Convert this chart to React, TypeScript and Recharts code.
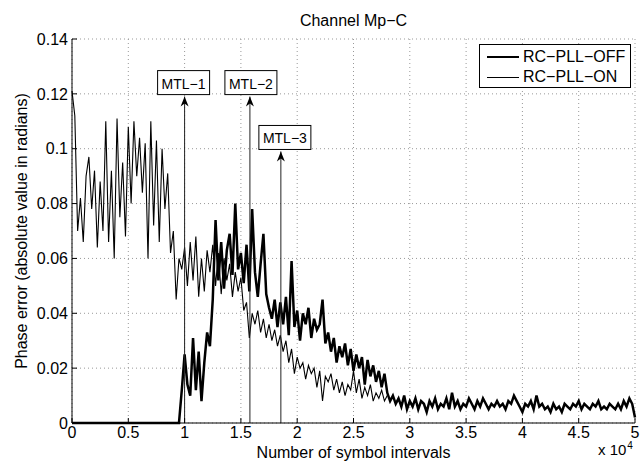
import React from 'react';
import { LineChart, Line, XAxis, YAxis, CartesianGrid, ReferenceLine } from 'recharts';

// samples every 250 symbol intervals (0 .. 5x10^4)
const STEP = 250;

const X_TICKS = [0, 5000, 10000, 15000, 20000, 25000, 30000, 35000, 40000, 45000, 50000];
const X_TICK_LABELS = ['0', '0.5', '1', '1.5', '2', '2.5', '3', '3.5', '4', '4.5', '5'];
const Y_TICKS = [0, 0.02, 0.04, 0.06, 0.08, 0.1, 0.12, 0.14];
const Y_TICK_LABELS = ['0', '0.02', '0.04', '0.06', '0.08', '0.1', '0.12', '0.14'];

// RC-PLL-OFF (thick)
const PLL_OFF = [
    0, 0, 0, 0, 0, 0, 0, 0, 0, 0, 0, 0, 0, 0, 0, 0, 0, 0, 0, 0,
    0, 0, 0, 0, 0, 0, 0, 0, 0, 0, 0, 0, 0, 0, 0, 0, 0, 0, 0,
    0.012, 0.025, 0.014, 0.010, 0.031, 0.012, 0.026, 0.008, 0.022, 0.033,
    0.028, 0.045, 0.074, 0.052, 0.066, 0.049, 0.063, 0.069, 0.054, 0.080,
    0.056, 0.062, 0.051, 0.065, 0.048, 0.078, 0.055, 0.046, 0.058, 0.069,
    0.047, 0.042, 0.038, 0.045, 0.035, 0.044, 0.036, 0.046, 0.032, 0.059,
    0.035, 0.041, 0.030, 0.040, 0.036, 0.042, 0.031, 0.038, 0.034, 0.036,
    0.045, 0.029, 0.033, 0.026, 0.031, 0.022, 0.028, 0.024, 0.029, 0.021,
    0.027, 0.019, 0.025, 0.020, 0.024, 0.014, 0.023, 0.017, 0.021, 0.015,
    0.019, 0.013, 0.018, 0.011, 0.008, 0.010, 0.007, 0.009, 0.006, 0.010,
    0.005, 0.008,
    0.006, 0.009, 0.005, 0.008, 0.007, 0.004, 0.008, 0.006, 0.009, 0.005,
    0.007, 0.006, 0.009, 0.005, 0.011, 0.006, 0.008, 0.005, 0.007, 0.006,
    0.009, 0.007, 0.005, 0.008, 0.006, 0.009, 0.007, 0.005, 0.007, 0.006,
    0.008, 0.006, 0.007, 0.005, 0.008, 0.007, 0.010, 0.008, 0.006, 0.004,
    0.007, 0.006, 0.008, 0.005, 0.010, 0.006, 0.007, 0.005, 0.006, 0.004,
    0.007, 0.005, 0.006, 0.004, 0.007, 0.006, 0.005, 0.007, 0.006, 0.008,
    0.005, 0.007, 0.006, 0.005, 0.007, 0.006, 0.008, 0.005, 0.006, 0.005,
    0.007, 0.006, 0.005, 0.007, 0.005, 0.008, 0.006, 0.009, 0.007, 0.002,
];

// RC-PLL-ON (thin), merges with the OFF curve after ~2.8x10^4
const PLL_ON = [
    0.121, 0.112, 0.070, 0.082, 0.066, 0.090, 0.097, 0.078, 0.092, 0.064,
    0.088, 0.070, 0.110, 0.066, 0.092, 0.060, 0.111, 0.075, 0.095, 0.068,
    0.108, 0.080, 0.110, 0.090, 0.104, 0.084, 0.102, 0.060, 0.110, 0.072,
    0.103, 0.066, 0.100, 0.078, 0.091, 0.062, 0.070, 0.045, 0.060, 0.056,
    0.064, 0.050, 0.066, 0.052, 0.068, 0.046, 0.060, 0.048, 0.063, 0.055,
    0.065, 0.050, 0.062, 0.047, 0.060, 0.052, 0.058, 0.046, 0.055, 0.048,
    0.053, 0.041, 0.044, 0.031, 0.040, 0.036, 0.041, 0.033, 0.038, 0.031,
    0.036, 0.030, 0.034, 0.028, 0.032, 0.026, 0.030, 0.022, 0.027, 0.018,
    0.024, 0.020, 0.022, 0.016, 0.021, 0.018, 0.020, 0.013, 0.019, 0.008,
    0.017, 0.015, 0.018, 0.012, 0.016, 0.011, 0.015, 0.010, 0.014, 0.012,
    0.019, 0.011, 0.016, 0.009, 0.013, 0.010, 0.014, 0.008, 0.011, 0.009,
    0.012, 0.008, 0.010,
];

// annotation arrows
const MARKER_NAMES = ['MTL−1', 'MTL−2', 'MTL−3'];
const MARKER_X = [10000, 15800, 18550];
const MARKER_TIP = [0.119, 0.119, 0.099];
const MARKER_SHIFT = [-1, 1, 4];

const FONT = '"Liberation Sans", Arial, Helvetica, sans-serif';

const data = PLL_OFF.map((off, i) => ({
    n: i * STEP,
    off,
    on: i < PLL_ON.length ? PLL_ON[i] : null,
}));

function arrowShape(name: string, shift: number) {
    return (p: any) => {
        const { x1, y1, x2, y2 } = p;
        const w = 52;
        const cx = x2 + shift;
        return (
            <g>
                <line x1={x1} y1={y1} x2={x2} y2={y2} stroke="#222" strokeWidth={1} />
                <path d={`M${x2},${y2} L${x2 - 4},${y2 + 10} L${x2},${y2 + 7} L${x2 + 4},${y2 + 10} Z`} fill="#000" />
                <rect x={cx - w / 2} y={y2 - 26} width={w} height={24} fill="#fff" stroke="#000" strokeWidth={1} />
                <text x={cx} y={y2 - 13} textAnchor="middle" dominantBaseline="central"
                    fontSize={14} fontFamily={FONT} fill="#000">{name}</text>
            </g>
        );
    };
}

const tickStyle = { fill: '#000', fontSize: 16, fontFamily: FONT };

export default function App() {
    return (
        <div style={{ position: 'absolute', left: 0, top: 0, width: 640, height: 463, background: '#fff', fontFamily: FONT, overflow: 'hidden' }}>
            <LineChart width={640} height={463} data={data} margin={{ top: 39, right: 5, bottom: 0, left: 0 }}>
                <CartesianGrid stroke="#999" strokeDasharray="1 3" />
                <XAxis
                    dataKey="n" type="number" domain={[0, 50000]} ticks={X_TICKS} interval={0}
                    tickFormatter={(v) => X_TICK_LABELS[X_TICKS.indexOf(v)]}
                    height={40} tickSize={-5} tickMargin={9}
                    axisLine={{ stroke: '#000' }} tickLine={{ stroke: '#000' }} tick={tickStyle}
                />
                <XAxis
                    xAxisId="top" orientation="top" dataKey="n" type="number" domain={[0, 50000]}
                    ticks={X_TICKS} interval={0} height={0} tickSize={-5} tick={false}
                    axisLine={{ stroke: '#000' }} tickLine={{ stroke: '#000' }}
                />
                <YAxis
                    type="number" domain={[0, 0.14]} ticks={Y_TICKS} interval={0}
                    tickFormatter={(v) => Y_TICK_LABELS[Y_TICKS.indexOf(v)]}
                    width={72} tickSize={-5} tickMargin={9}
                    axisLine={{ stroke: '#000' }} tickLine={{ stroke: '#000' }} tick={tickStyle}
                />
                <YAxis
                    yAxisId="right" orientation="right" type="number" domain={[0, 0.14]}
                    ticks={Y_TICKS} interval={0} width={0} tickSize={-5} tick={false}
                    axisLine={{ stroke: '#000' }} tickLine={{ stroke: '#000' }}
                />
                <Line type="linear" dataKey="off" stroke="#000" strokeWidth={2.5} dot={false} isAnimationActive={false} />
                <Line type="linear" dataKey="on" stroke="#000" strokeWidth={1.1} dot={false} isAnimationActive={false} connectNulls={false} />
                {MARKER_NAMES.map((name, i) => (
                    <ReferenceLine
                        key={name}
                        segment={[{ x: MARKER_X[i], y: 0 }, { x: MARKER_X[i], y: MARKER_TIP[i] }]}
                        stroke="#000"
                        shape={arrowShape(name, MARKER_SHIFT[i])}
                    />
                ))}
            </LineChart>

            {/* title */}
            <div style={{ position: 'absolute', left: 72, width: 563, top: 12, textAlign: 'center', fontSize: 16, lineHeight: '18px' }}>
                Channel Mp−C
            </div>
            {/* x label */}
            <div style={{ position: 'absolute', left: 72, width: 563, top: 444, textAlign: 'center', fontSize: 16, lineHeight: '18px' }}>
                Number of symbol intervals
            </div>
            <div style={{ position: 'absolute', left: 598, top: 442, fontSize: 15, lineHeight: '16px', height: 16, whiteSpace: 'nowrap' }}>
                x 10<span style={{ fontSize: 10, position: 'relative', top: -6, marginLeft: 1 }}>4</span>
            </div>
            {/* y label */}
            <div style={{
                position: 'absolute', left: 22, top: 231, width: 320, marginLeft: -160, marginTop: -9,
                textAlign: 'center', fontSize: 16, lineHeight: '18px', transform: 'rotate(-90deg)', whiteSpace: 'nowrap',
            }}>
                Phase error (absolute value in radians)
            </div>
            {/* legend */}
            <div style={{ position: 'absolute', left: 479, top: 44, width: 150, height: 42, border: '1px solid #000', background: '#fff' }}>
                <div style={{ position: 'absolute', left: 7, top: 11, width: 32, height: 0, borderTop: '2.5px solid #000' }} />
                <div style={{ position: 'absolute', left: 43, top: 3, fontSize: 16, lineHeight: '18px', whiteSpace: 'nowrap' }}>RC−PLL−OFF</div>
                <div style={{ position: 'absolute', left: 7, top: 32, width: 32, height: 0, borderTop: '1px solid #000' }} />
                <div style={{ position: 'absolute', left: 43, top: 23, fontSize: 16, lineHeight: '18px', whiteSpace: 'nowrap' }}>RC−PLL−ON</div>
            </div>
        </div>
    );
}
